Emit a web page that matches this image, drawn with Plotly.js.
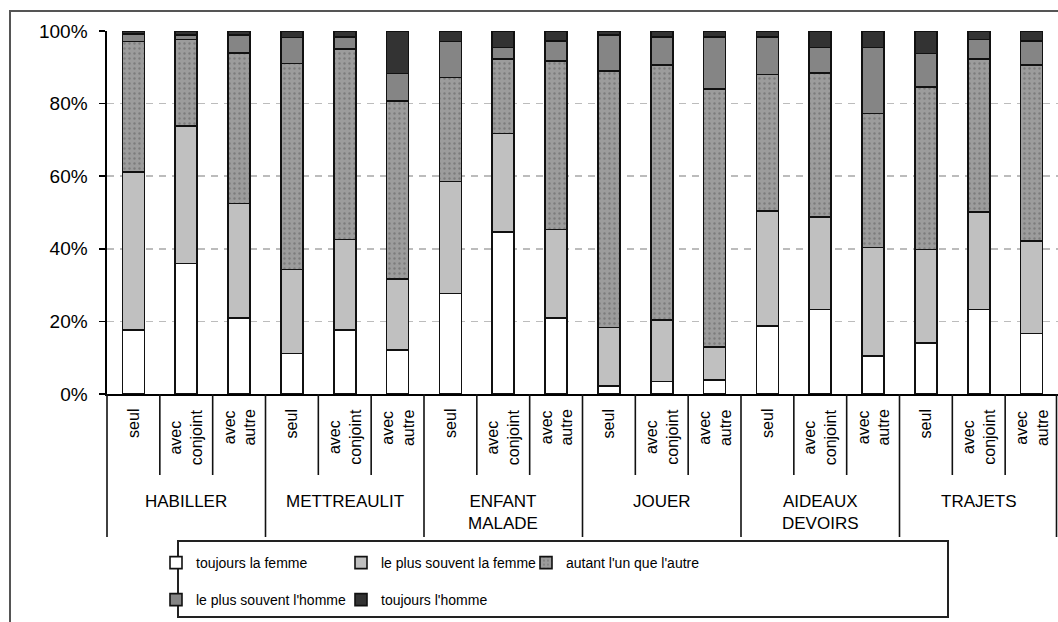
<!DOCTYPE html>
<html>
<head>
<meta charset="utf-8">
<script src="https://cdn.plot.ly/plotly-3.0.1.min.js"></script>
<style>html,body{margin:0;padding:0;background:#fff;}#chart{width:1058px;height:622px;}</style>
</head>
<body>
<div id="chart"></div>
<script>
// ---- data ----
const groups = ['HABILLER', 'METTREAULIT', 'ENFANT MALADE', 'JOUER', 'AIDEAUX DEVOIRS', 'TRAJETS'];
const groupLabels = ['HABILLER', 'METTREAULIT', 'ENFANT<br>MALADE', 'JOUER', 'AIDEAUX<br>DEVOIRS', 'TRAJETS'];
const subs = ['seul', 'avec conjoint', 'avec autre'];
const subLabels = ['seul', 'avec<br>conjoint', 'avec<br>autre'];
const seriesNames = ['toujours la femme', 'le plus souvent la femme', "autant l'un que l'autre", "le plus souvent l'homme", "toujours l'homme"];
const toujoursFemme    = [17.6, 36.0, 21.0, 11.2, 17.6, 12.1, 27.7, 44.7, 21.0, 2.2, 3.4, 3.9, 18.8, 23.3, 10.5, 14.0, 23.3, 16.7];
const plusSouventFemme = [43.6, 37.9, 31.5, 23.1, 25.0, 19.5, 30.8, 27.1, 24.3, 16.1, 17.0, 9.0, 31.6, 25.4, 29.9, 25.8, 26.9, 25.4];
const autant           = [35.9, 23.8, 41.5, 56.8, 52.4, 49.1, 28.7, 20.5, 46.4, 70.7, 70.2, 71.1, 37.6, 39.8, 36.9, 44.7, 42.1, 48.5];
const plusSouventHomme = [2.1, 1.2, 4.9, 7.1, 3.4, 7.6, 9.9, 3.2, 5.5, 9.9, 7.8, 14.4, 10.4, 7.0, 18.2, 9.3, 5.4, 6.6];
const toujoursHomme    = [0.8, 1.1, 1.1, 1.8, 1.6, 11.7, 2.9, 4.5, 2.8, 1.1, 1.6, 1.6, 1.6, 4.5, 4.5, 6.2, 2.3, 2.8];
const yTicks = [0, 20, 40, 60, 80, 100];

// ---- build ----
const cats = [];
groups.forEach(g => subs.forEach(s => cats.push(g + ' | ' + s)));
const nCat = cats.length;
const FONT = '"Liberation Sans", Arial, sans-serif';
const seriesValues = [toujoursFemme, plusSouventFemme, autant, plusSouventHomme, toujoursHomme];
const fills = ['#ffffff', '#c0c0c0', '#9a9a9a', '#858585', '#333333'];

const traces = seriesValues.map((vals, k) => {
  const marker = {color: fills[k], line: {color: '#111', width: 1.6}};
  if (k === 2) marker.pattern = {shape: '.', bgcolor: '#9c9c9c', fgcolor: '#7c7c7c', size: 5, solidity: 0.18, fillmode: 'replace'};
  return {
    type: 'bar', name: seriesNames[k], x: cats, y: vals, marker: marker,
    legend: k < 3 ? 'legend' : 'legend2', hoverinfo: 'skip'
  };
});

// pixel helpers for paper coords (plot area: x 107..1058, y 31..394)
const L = 107, R = 0, T = 31, B = 228, W = 1058, H = 622;
const pw = W - L - R, ph = H - T - B;
const px = v => (v - L) / pw;
const py = v => (H - B - v) / ph;

const shapes = [];
for (let i = 0; i <= nCat; i++) {
  const isGroup = i % 3 === 0;
  const xp = i === nCat ? 1 - 1.5 / pw : i / nCat;
  shapes.push({type: 'line', xref: 'paper', yref: 'paper', x0: xp, x1: xp,
    y0: 0, y1: py(isGroup ? 537 : 475), line: {color: '#111', width: 1.6}});
}
// outer chart border
shapes.push({type: 'rect', xref: 'paper', yref: 'paper', x0: px(10), x1: px(1070), y0: py(640), y1: py(11),
  line: {color: '#555', width: 2}, fillcolor: 'rgba(0,0,0,0)'});
// legend box
shapes.push({type: 'rect', xref: 'paper', yref: 'paper', x0: px(178), x1: px(948), y0: py(617), y1: py(541),
  line: {color: '#222', width: 2}, fillcolor: 'rgba(0,0,0,0)'});

const annotations = [];
for (let i = 0; i < nCat; i++) {
  annotations.push({xref: 'x', yref: 'paper', x: i, y: py(407), yanchor: 'top', xanchor: 'center',
    text: subLabels[i % 3], textangle: -90, showarrow: false, align: 'center',
    font: {family: FONT, size: 16, color: '#000'}});
}
groups.forEach((g, gi) => {
  annotations.push({xref: 'x', yref: 'paper', x: gi * 3 + 1, y: py(490), yanchor: 'top', xanchor: 'center',
    text: groupLabels[gi], showarrow: false, align: 'center',
    font: {family: FONT, size: 17, color: '#000'}});
});

const legendCommon = {orientation: 'h', xanchor: 'left', yanchor: 'middle', x: px(156),
  font: {family: FONT, size: 14, color: '#000'}, bgcolor: 'rgba(0,0,0,0)', borderwidth: 0,
  entrywidth: 140, entrywidthmode: 'pixels', itemwidth: 30, traceorder: 'normal', itemclick: false};

const layout = {
  width: W, height: H,
  margin: {l: L, r: R, t: T, b: B, pad: 0},
  paper_bgcolor: '#ffffff', plot_bgcolor: '#ffffff',
  barmode: 'stack', bargap: 0.585,
  font: {family: FONT, color: '#000'},
  xaxis: {type: 'category', range: [-0.5, nCat - 0.5], showticklabels: false, ticks: '',
    showgrid: false, showline: true, linecolor: '#000', linewidth: 1.6, zeroline: false, fixedrange: true},
  yaxis: {range: [0, 100], tickvals: yTicks, ticktext: yTicks.map(v => v + '%'),
    showgrid: true, gridcolor: '#bcbcbc', gridwidth: 1.5, griddash: '7px,6px',
    showline: true, linecolor: '#000', linewidth: 1.6, ticks: 'outside', ticklen: 6, tickwidth: 1.6, tickcolor: '#000',
    tickfont: {family: FONT, size: 19, color: '#000'}, ticklabelstandoff: 8, zeroline: false, fixedrange: true},
  legend: Object.assign({}, legendCommon, {y: py(563)}),
  legend2: Object.assign({}, legendCommon, {y: py(600)}),
  showlegend: true,
  shapes: shapes,
  annotations: annotations
};

Plotly.newPlot('chart', traces, layout, {staticPlot: true, displayModeBar: false});
</script>
</body>
</html>
